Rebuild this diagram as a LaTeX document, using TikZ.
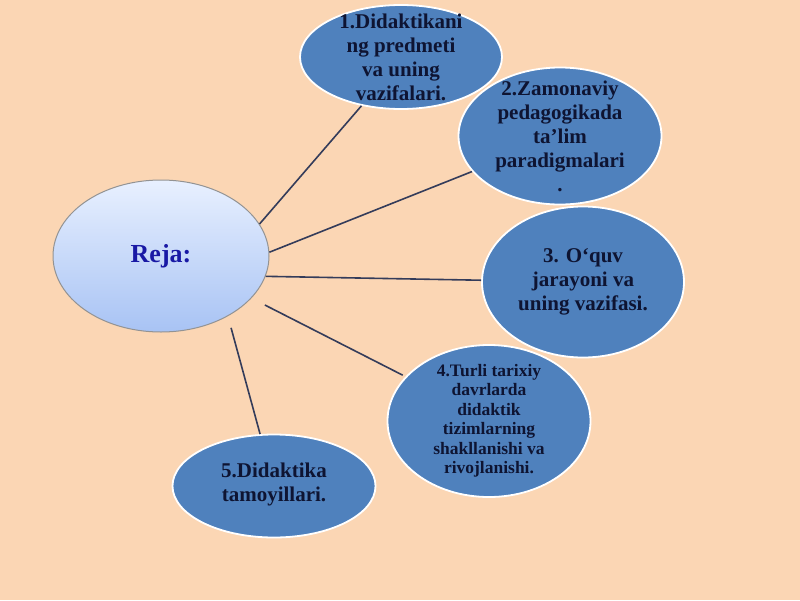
\documentclass[tikz,border=0pt]{standalone}
\usepackage{fontspec}
\setmainfont{Liberation Serif}
\usetikzlibrary{shapes.geometric}
\definecolor{bg}{RGB}{251,214,180}
\definecolor{bubblefill}{RGB}{79,129,189}
\definecolor{txtc}{RGB}{14,20,50}
\definecolor{rejatxt}{RGB}{25,25,165}
\definecolor{linkc}{RGB}{52,60,90}
\definecolor{rejatop}{RGB}{232,240,255}
\definecolor{rejabot}{RGB}{168,195,244}
\begin{document}
\begin{tikzpicture}[x=1pt,y=-1pt,
  bubble/.style={ellipse, fill=bubblefill, draw=white, line width=1.8pt, inner sep=0pt},
  btext/.style={align=center, text=txtc, font=\bfseries\fontsize{21}{24}\selectfont, inner sep=0pt},
  stext/.style={align=center, text=txtc, font=\bfseries\fontsize{17.5}{19.5}\selectfont, inner sep=0pt},
  link/.style={draw=linkc, line width=1.6pt}]
\fill[bg] (0,0) rectangle (800,600);
\useasboundingbox (0,0) rectangle (800,600);

\node[ellipse, draw=gray!85, line width=1pt, top color=rejatop, bottom color=rejabot,
      minimum width=216pt, minimum height=152pt, inner sep=0pt] (reja) at (161,256) {};
\node[text=rejatxt, font=\bfseries\fontsize{26}{30}\selectfont, inner sep=0pt] (rejat) at (reja) {Reja:};

\node[bubble, minimum width=202pt, minimum height=104pt] (e1) at (401,57) {};
\node[btext] (t1) at (e1) {1.Didaktikani\\ng predmeti\\va uning\\vazifalari.};

\node[bubble, minimum width=203pt, minimum height=137pt] (e2) at (560,136) {};
\node[btext] (t2) at (e2) {2.Zamonaviy\\pedagogikada\\ta’lim\\paradigmalari\\.};

\node[bubble, minimum width=202pt, minimum height=151pt] (e3) at (583,282) {};
\node[btext] (t3) at (e3) {3. O‘quv\\jarayoni va\\uning vazifasi.};

\node[bubble, minimum width=203pt, minimum height=152pt] (e4) at (489,421) {};
\node[stext] (t4) at (e4) {4.Turli tarixiy\\davrlarda\\didaktik\\tizimlarning\\shakllanishi va\\rivojlanishi.};

\node[bubble, minimum width=203pt, minimum height=103pt] (e5) at (274,486) {};
\node[btext] (t5) at ([yshift=1.5pt]e5.center) {5.Didaktika\\tamoyillari.};

\draw[link] (reja.18) -- (e1.231);
\draw[link] (reja.2) -- (e2.202);
\draw[link] (reja.-11) -- (e3.179);
\draw[link, shorten <=15pt, shorten >=3pt] (reja.-25) -- (e4.152);
\draw[link, shorten <=12pt] (reja.-42) -- (e5.105);
\end{tikzpicture}
\end{document}
